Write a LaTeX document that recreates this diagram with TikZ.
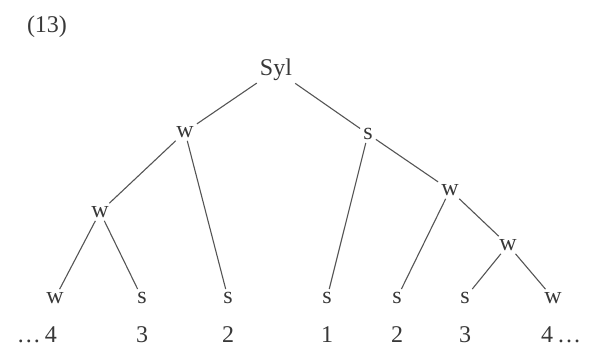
\documentclass[tikz,border=0pt]{standalone}
\usepackage{fontspec}
\setmainfont{Liberation Serif}
\usetikzlibrary{positioning}
\definecolor{inkc}{HTML}{383838}
\definecolor{branchc}{HTML}{555555}
\tikzset{
  lab/.style={inner sep=3pt, text=inkc, font=\fontsize{24}{28}\selectfont},
  br/.style={draw=branchc, line width=1.1pt},
}
\begin{document}
\begin{tikzpicture}[x=1pt, y=-1pt]
\useasboundingbox (0,0) rectangle (600,354);
\node[lab] (ex) at (47,27) {(13)};
% tree nodes
\node[lab] (syl) at (276,70) {Syl};
\node[lab] (wA) at (185,132) {w};
\node[lab] (sA) at (368,134) {s};
\node[lab] (wB) at (100,212) {w};
\node[lab] (wC) at (450,190) {w};
\node[lab] (wD) at (508,245) {w};
% leaves
\node[lab] (l1) at (55,298) {w};
\node[lab] (l2) at (142,298) {s};
\node[lab] (l3) at (228,298) {s};
\node[lab] (l4) at (327,298) {s};
\node[lab] (l5) at (397,298) {s};
\node[lab] (l6) at (465,298) {s};
\node[lab] (l7) at (553,298) {w};
% numbers
\node[lab, anchor=east] (n1) at (60,335) {\ldots\,4};
\node[lab] (n2) at (142,335) {3};
\node[lab] (n3) at (228,335) {2};
\node[lab] (n4) at (327,335) {1};
\node[lab] (n5) at (397,335) {2};
\node[lab] (n6) at (465,335) {3};
\node[lab, anchor=west] (n7) at (538,335) {4\,\ldots};
% branches
\draw[br] (syl) -- (wA); \draw[br] (syl) -- (sA);
\draw[br] (wA) -- (wB); \draw[br] (wA) -- (l3);
\draw[br] (wB) -- (l1); \draw[br] (wB) -- (l2);
\draw[br] (sA) -- (l4); \draw[br] (sA) -- (wC);
\draw[br] (wC) -- (l5); \draw[br] (wC) -- (wD);
\draw[br] (wD) -- (l6); \draw[br] (wD) -- (l7);
\end{tikzpicture}
\end{document}
